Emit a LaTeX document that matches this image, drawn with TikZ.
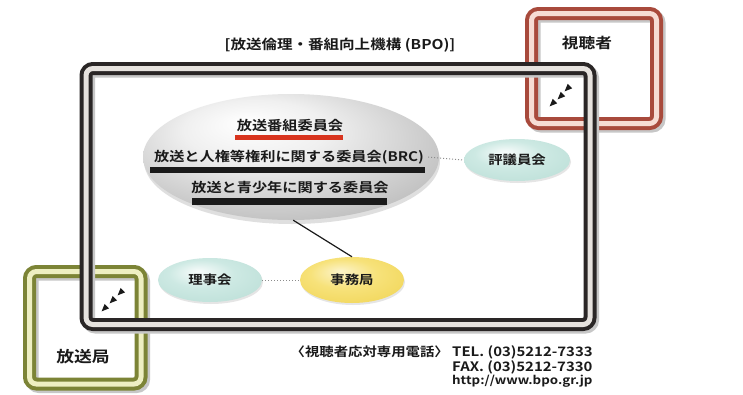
\documentclass[tikz,border=0pt]{standalone}
\usepackage{fontspec}
\setmainfont{Noto Sans CJK JP}[FakeStretch=1.15,BoldFont={Noto Sans CJK JP Bold},BoldFeatures={FakeStretch=1.15}]
\usetikzlibrary{calc,shapes.geometric,shadows}
\definecolor{txt}{HTML}{1A1A1A}
\definecolor{bpodark}{HTML}{2A2626}
\definecolor{bpolight}{HTML}{E6E2DE}
\definecolor{reddark}{HTML}{A84A3C}
\definecolor{redlight}{HTML}{F6DCD4}
\definecolor{grndark}{HTML}{7C8436}
\definecolor{grnlight}{HTML}{EEEFC2}
\definecolor{barred}{HTML}{D8341E}
\definecolor{cyedge}{HTML}{9CCCC2}
\definecolor{cymid}{HTML}{CDE9E3}
\definecolor{yedge}{HTML}{E9C52C}
\definecolor{ymid}{HTML}{F7E27A}
\pgfdeclareradialshading{glowgray}{\pgfpoint{-8bp}{14bp}}{color(0bp)=(white); color(12bp)=(white!94!black); color(32bp)=(black!25); color(45bp)=(black!40); color(50bp)=(black!48)}
\pgfdeclareradialshading{glowcyan}{\pgfpoint{-6bp}{10bp}}{color(0bp)=(white!85!cymid); color(16bp)=(cymid); color(38bp)=(cymid!60!cyedge); color(50bp)=(cyedge)}
\pgfdeclareradialshading{glowyel}{\pgfpoint{-6bp}{10bp}}{color(0bp)=(white!60!ymid); color(16bp)=(ymid); color(38bp)=(ymid!50!yedge); color(50bp)=(yedge)}
\tikzset{
  lbl/.style={font=\bfseries\fontsize{#1}{#1}\selectfont, text=txt, inner sep=0pt},
  bigell/.style={ellipse, shading=glowgray, minimum width=296pt, minimum height=126pt, inner sep=0pt,
     drop shadow={shadow xshift=1pt, shadow yshift=-4pt, opacity=0.25}},
  cyanell/.style={ellipse, shading=glowcyan, inner sep=0pt, font=\bfseries\fontsize{12.5}{12.5}\selectfont, text=txt,
     drop shadow={shadow xshift=1pt, shadow yshift=-2pt, opacity=0.2}},
  yelell/.style={cyanell, shading=glowyel},
  dotline/.style={draw=black!45, line width=1pt, dotted},
  link/.style={draw=txt, line width=1.2pt},
  tri/.pic={\fill[txt] (-3.4,3.4) -- (4.1,0.35) -- (-0.35,-4.1) -- cycle;}
}
\newcommand\dframe[4]{%
  \draw[line width=13pt, black!22, rounded corners=7pt, shift={(2.5pt,-2.5pt)}] #3 rectangle #4;
  \draw[line width=13pt, #1, rounded corners=7pt] #3 rectangle #4;
  \draw[line width=5pt, #2, rounded corners=7pt] #3 rectangle #4;}
\begin{document}
\begin{tikzpicture}[x=1pt,y=-1pt]
\useasboundingbox[fill=white] (0,0) rectangle (743,394);
% viewer and broadcaster frames
\dframe{reddark}{redlight}{(531.5,13.5)}{(656.5,123.5)}
\dframe{grndark}{grnlight}{(29.5,271.5)}{(141,384)}
\node[lbl=14.5] (viewer) at (587,43) {視聴者};
\node[lbl=15.5] (station) at (83,357) {放送局};
\pic at (568,88) {tri};
\pic at (561,96) {tri};
\pic at (553,103) {tri};
\pic at (121,292) {tri};
\pic at (113,300) {tri};
\pic at (105,308) {tri};
% BPO frame
\dframe{bpodark}{bpolight}{(86,68.5)}{(590,324.5)}
\node[lbl=13.5] (title) at (340,45) {[放送倫理・番組向上機構 (BPO)]};
% committees
\node[bigell] (big) at (291,157) {};
\node[lbl=13.2] (t1) at (290,125) {放送番組委員会};
\node[lbl=13.2] (brc) at (289,157) {放送と人権等権利に関する委員会(BRC)};
\node[lbl=13.2] (t3) at (290,187) {放送と青少年に関する委員会};
\fill[barred] (235,135) rectangle (343,140);
\fill[txt] (150,167) rectangle (425,173);
\fill[txt] (192,198) rectangle (387,205);
\node[cyanell, minimum width=106pt, minimum height=42pt] (hyo) at (517,160) {評議員会};
\node[cyanell, minimum width=104pt, minimum height=44pt] (riji) at (210,280) {理事会};
\node[yelell, minimum width=104pt, minimum height=46pt] (jimu) at (352,280) {事務局};
\draw[dotline] ([xshift=4pt]brc.east) -- (hyo.west);
\draw[dotline] (riji.east) -- (jimu.west);
\draw[link] (big.-88) -- (jimu.north);
% contact
\node[lbl=12.5, anchor=east] (tellbl) at (449,352) {〈視聴者応対専用電話〉};
\node[lbl=13, anchor=west] (tel) at (452,352) {TEL. (03)5212-7333};
\node[lbl=13, anchor=west] (fax) at (452,367) {FAX. (03)5212-7330};
\node[lbl=11.6, anchor=west] (url) at (452,381) {http://www.bpo.gr.jp};
\end{tikzpicture}
\end{document}
